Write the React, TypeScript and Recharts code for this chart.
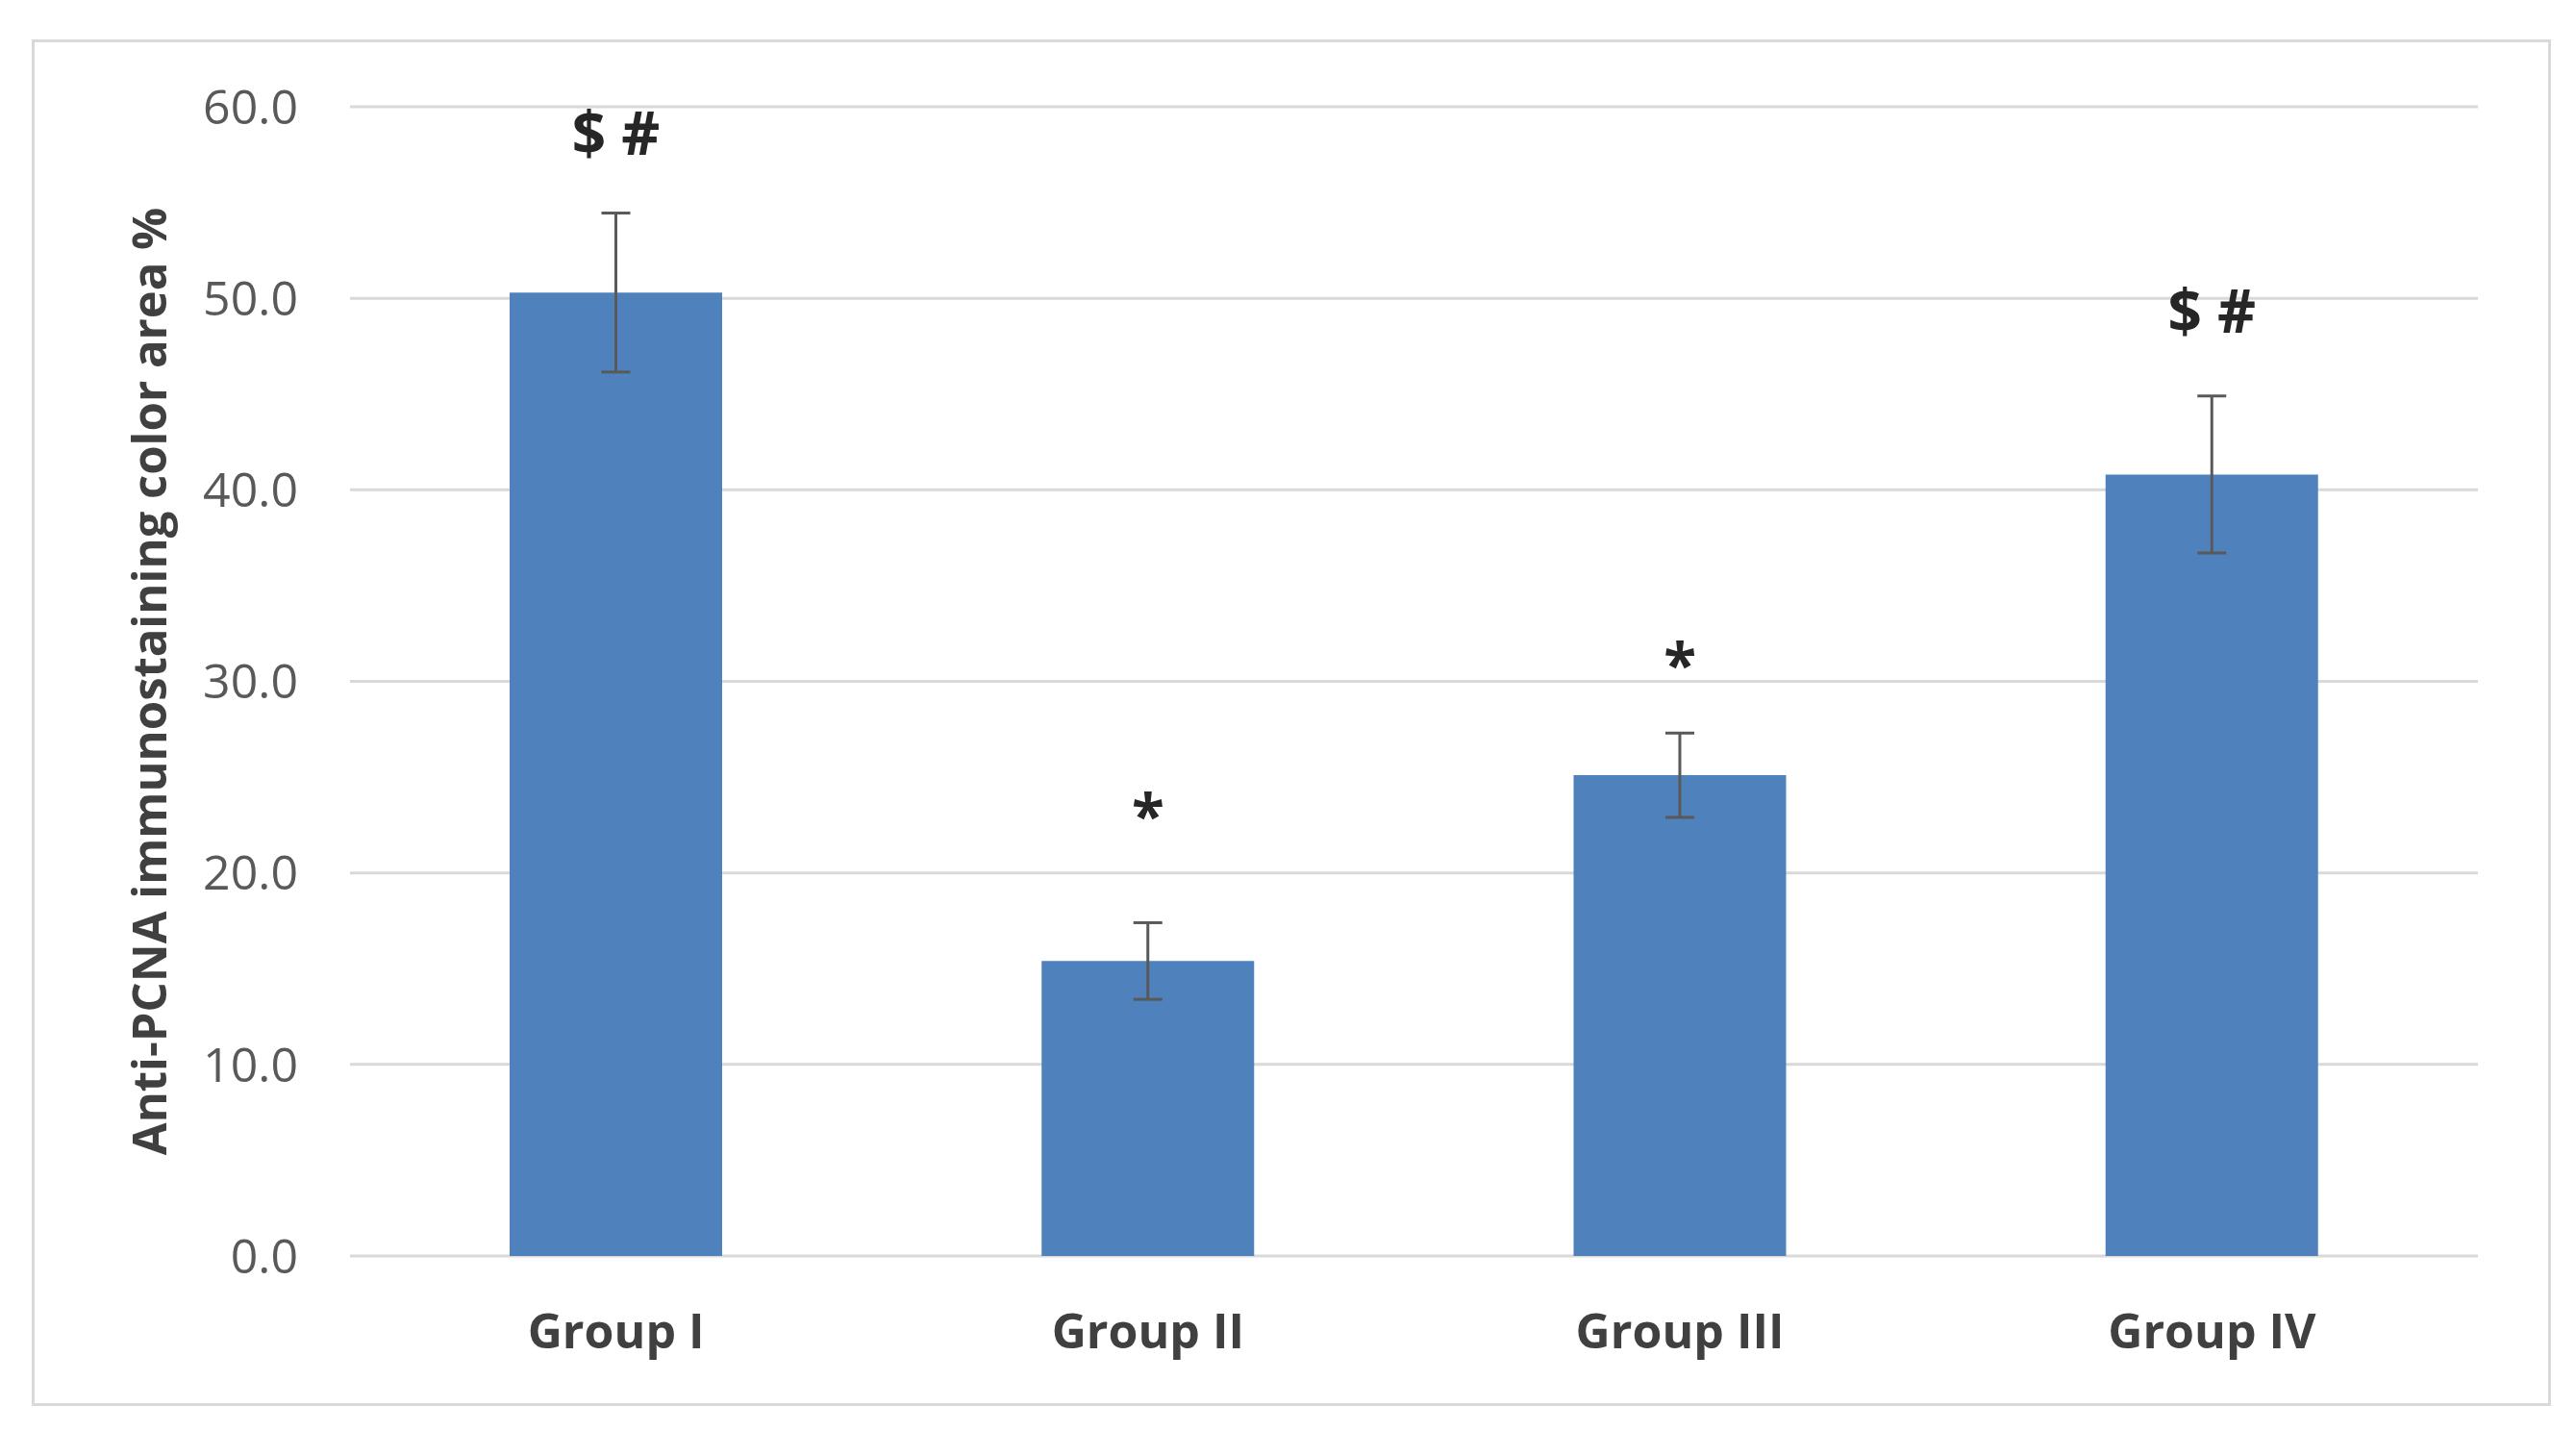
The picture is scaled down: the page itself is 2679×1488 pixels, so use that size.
import {
  ComposedChart, Bar, Line, XAxis, YAxis, CartesianGrid,
  ErrorBar, LabelList,
} from 'recharts';

const groups = ['Group I', 'Group II', 'Group III', 'Group IV'];
const means = [50.3, 15.4, 25.1, 40.8];
const sds = [4.15, 2.0, 2.2, 4.1];
const marks = ['$ #', '*', '*', '$ #'];
// where each significance mark sits, in axis units
const markAt = [58.6, 23.7, 31.6, 49.3];
const yTicks = [0, 10, 20, 30, 40, 50, 60];

const rows = groups.map((g, i) => ({
  group: g,
  mean: means[i],
  sd: sds[i],
  mark: marks[i],
  markAt: markAt[i],
}));

const FONT = '"Open Sans", "Noto Sans", sans-serif';

function MarkLabel(props: any) {
  const { x, y, value } = props;
  if (x == null || y == null || !value) return null;
  const fs = 62;
  const dy = value === '*' ? fs * 0.6 : fs * 0.36;
  return (
    <text
      x={x}
      y={y + dy}
      textAnchor="middle"
      fontFamily={FONT}
      fontWeight={700}
      fontSize={fs}
      fill="#262626"
    >
      {value}
    </text>
  );
}

function YTitle(props: any) {
  const vb = props.viewBox ?? {};
  const cx = 154;
  const cy = (vb.y ?? 111) + (vb.height ?? 1195) / 2;
  return (
    <text
      x={cx}
      y={cy}
      transform={`rotate(-90 ${cx} ${cy})`}
      textAnchor="middle"
      dominantBaseline="central"
      fontFamily={FONT}
      fontWeight={700}
      fontSize={49}
      fill="#404040"
    >
      Anti-PCNA immunostaining color area %
    </text>
  );
}

export default function App() {
  return (
    <div style={{ position: 'absolute', left: 0, top: 0, width: 2679, height: 1488, background: '#fff' }}>
      <div
        style={{
          position: 'absolute', left: 33, top: 41, width: 2620, height: 1421,
          border: '3px solid #d9d9d9', boxSizing: 'border-box',
        }}
      />
      <div style={{ position: 'absolute', left: 0, top: 0 }}>
        <ComposedChart
          width={2679}
          height={1488}
          data={rows}
          margin={{ top: 111, right: 102, left: 134, bottom: 82 }}
        >
          <CartesianGrid vertical={false} stroke="#d9d9d9" strokeWidth={3} />
          <XAxis
            dataKey="group"
            axisLine={false}
            tickLine={false}
            tickSize={0}
            tickMargin={60}
            height={100}
            tick={{ fontFamily: FONT, fontWeight: 700, fontSize: 50, fill: '#404040' }}
          />
          <YAxis
            domain={[0, 60]}
            ticks={yTicks}
            interval={0}
            width={230}
            axisLine={false}
            tickLine={false}
            tickSize={0}
            tickMargin={54}
            tickFormatter={(v: number) => v.toFixed(1)}
            tick={{ fontFamily: FONT, fontSize: 50, fill: '#595959' }}
            label={YTitle}
          />
          <Bar dataKey="mean" fill="#4f81bd" barSize={221} isAnimationActive={false}>
            <ErrorBar dataKey="sd" width={15} stroke="#595959" strokeWidth={3} direction="y" />
          </Bar>
          <Line
            dataKey="markAt"
            stroke="none"
            dot={false}
            activeDot={false}
            legendType="none"
            isAnimationActive={false}
          >
            <LabelList dataKey="mark" content={MarkLabel} />
          </Line>
        </ComposedChart>
      </div>
    </div>
  );
}
